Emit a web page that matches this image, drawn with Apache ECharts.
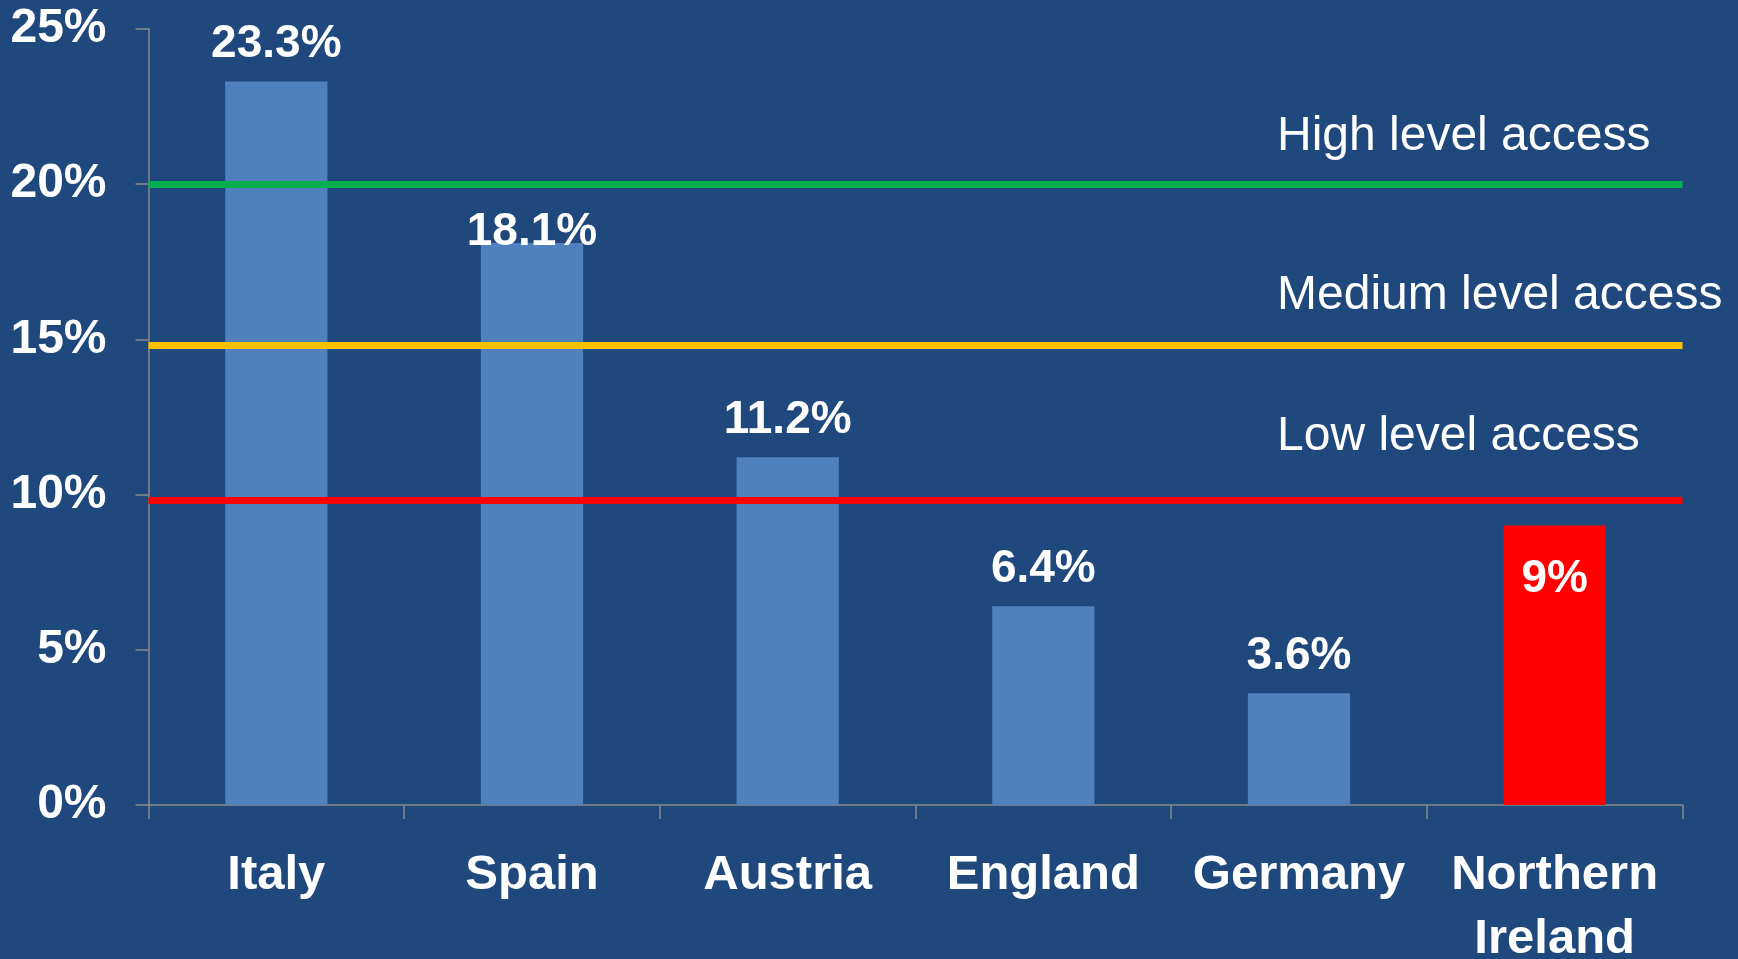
<!DOCTYPE html>
<html>
<head>
<meta charset="utf-8">
<script src="https://cdn.jsdelivr.net/npm/echarts@6/dist/echarts.min.js"></script>
<style>
  html, body { margin: 0; padding: 0; background: #1f497d; }
  #main { width: 1738px; height: 959px; }
</style>
</head>
<body>
<div id="main"></div>
<script>
var chartDom = document.getElementById('main');
var myChart = echarts.init(chartDom);
var option;

const countries = ['Italy', 'Spain', 'Austria', 'England', 'Germany', 'Northern\nIreland'];
const values = [23.3, 18.1, 11.2, 6.4, 3.6, 9];
const valueLabels = ['23.3%', '18.1%', '11.2%', '6.4%', '3.6%', '9%'];
const yTicks = [0, 5, 10, 15, 20, 25];
const thresholdValues = [20, 14.8, 9.8];
const thresholdNames = ['High level access', 'Medium level access', 'Low level access'];

const highlighted = 'Northern\nIreland';
const barColor = '#4f81bd';
const highlightColor = '#ff0000';
const lineColors = ['#00b050', '#ffc000', '#ff0000'];
const axisColor = '#8a8a8a';
const boldFont = "'Liberation Sans', Arial, sans-serif";

function getBarData()
{
  return values.map((v, i) => {
    let item = {
      value: v,
      itemStyle: { color: countries[i] == highlighted ? highlightColor : barColor }
    };
    if (countries[i] == highlighted) {
      item.label = { position: 'insideTop', distance: 31 };
    }
    if (countries[i] == 'Spain') {
      item.label = { offset: [0, 26] };
    }
    return item;
  });
}

function getMarkLines()
{
  return thresholdValues.map((v, i) => {
    return {
      yAxis: v,
      lineStyle: { color: lineColors[i], width: 7, type: 'solid' }
    };
  });
}

// threshold captions sit above each line, left aligned
const captionY = [137, 296, 437];

option = {
  backgroundColor: '#1f497d',
  animation: false,
  grid: {
    left: 148.5,
    right: 55.5,
    top: 28.8,
    bottom: 154,
    outerBoundsMode: 'none'
  },
  xAxis: {
    type: 'category',
    data: countries,
    axisLine: { lineStyle: { color: axisColor, width: 1.5 } },
    axisTick: { show: true, length: 14, lineStyle: { color: axisColor, width: 1.5 } },
    axisLabel: {
      color: '#ffffff',
      fontFamily: boldFont,
      fontWeight: 'bold',
      fontSize: 49,
      lineHeight: 64,
      margin: 38,
      interval: 0
    }
  },
  yAxis: {
    type: 'value',
    min: 0,
    max: 25,
    interval: 5,
    splitLine: { show: false },
    axisLine: { show: true, lineStyle: { color: axisColor, width: 1.5 } },
    axisTick: { show: true, length: 13, lineStyle: { color: axisColor, width: 1.5 } },
    axisLabel: {
      color: '#ffffff',
      fontFamily: boldFont,
      fontWeight: 'bold',
      fontSize: 48,
      margin: 42,
      padding: [6, 0, 0, 0],
      formatter: v => yTicks.includes(v) ? v + '%' : ''
    }
  },
  series: [
    {
      type: 'bar',
      data: getBarData(),
      barWidth: '40%',
      label: {
        show: true,
        position: 'top',
        distance: 14,
        color: '#ffffff',
        fontFamily: boldFont,
        fontWeight: 'bold',
        fontSize: 46,
        formatter: p => valueLabels[p.dataIndex]
      },
      markLine: {
        silent: true,
        symbol: 'none',
        label: { show: false },
        data: getMarkLines()
      }
    }
  ],
  graphic: thresholdNames.map((t, i) => {
    return {
      type: 'text',
      x: 1277,
      y: captionY[i],
      style: {
        text: t,
        fill: '#ffffff',
        font: "48px 'Liberation Sans', Arial, sans-serif",
        verticalAlign: 'middle',
        align: 'left'
      }
    };
  })
};

option && myChart.setOption(option);
</script>
</body>
</html>
